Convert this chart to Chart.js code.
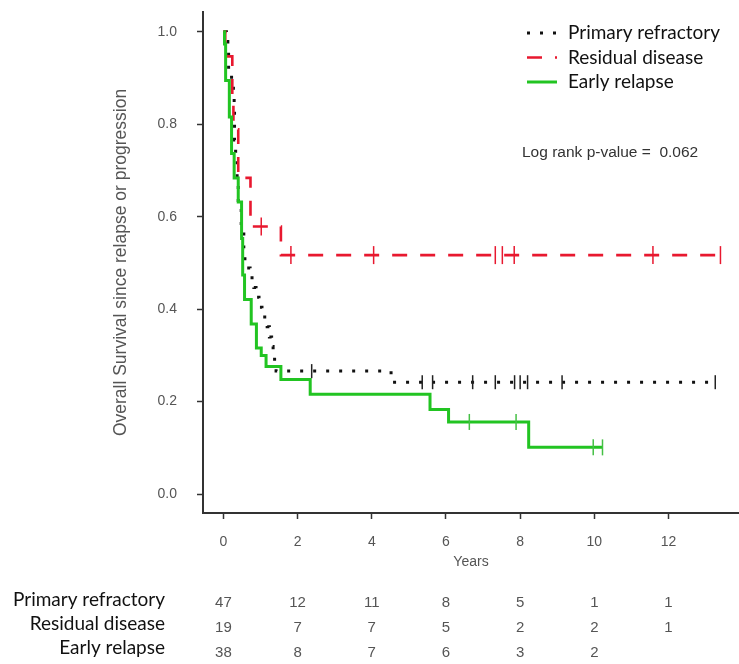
<!DOCTYPE html>
<html>
<head>
<meta charset="utf-8">
<script src="https://cdn.jsdelivr.net/npm/chart.js@4.4.1/dist/chart.umd.min.js"></script>
<style>
  html, body { margin: 0; padding: 0; background: #fff; overflow: hidden; }
  canvas { display: block; }
</style>
</head>
<body>
<canvas id="kmChart" width="739" height="664"></canvas>
<script>
// group names
const groups = ['Primary refractory', 'Residual disease', 'Early relapse'];

// Kaplan-Meier steps: time (years) and survival after the step
const refractoryTimes = [0, 0.08, 0.12, 0.14, 0.22, 0.27, 0.29, 0.30, 0.33, 0.37, 0.40, 0.48, 0.55, 0.58,
  0.72, 0.82, 0.88, 0.96, 1.04, 1.18, 1.24, 1.30, 1.34, 1.38, 1.42, 4.52];
const refractorySurv = [1.0, 0.979, 0.957, 0.915, 0.894, 0.872, 0.830, 0.766, 0.723, 0.681, 0.617, 0.574, 0.532, 0.489,
  0.468, 0.447, 0.426, 0.404, 0.383, 0.362, 0.340, 0.319, 0.298, 0.277, 0.266, 0.242];
const refractoryCensor = [2.38, 5.36, 5.64, 6.72, 7.33, 7.85, 8.0, 8.2, 9.13, 13.26];

const residualTimes = [0, 0.05, 0.24, 0.27, 0.40, 0.73, 1.55];
const residualSurv = [1.0, 0.947, 0.842, 0.789, 0.684, 0.579, 0.517];
const residualCensor = [1.02, 1.82, 4.05, 7.33, 7.52, 7.84, 11.58, 13.4];

const earlyTimes = [0, 0.03, 0.06, 0.16, 0.22, 0.29, 0.40, 0.49, 0.52, 0.57, 0.75, 0.89, 1.02, 1.15, 1.55, 2.34, 5.57, 6.07, 8.23];
const earlySurv = [1.0, 0.974, 0.895, 0.816, 0.737, 0.684, 0.632, 0.553, 0.474, 0.421, 0.368, 0.316, 0.300, 0.276, 0.248, 0.216, 0.183, 0.156, 0.101];
const earlyCensor = [6.63, 7.89, 9.97, 10.22];

// axis ticks
const xTicks = [0, 2, 4, 6, 8, 10, 12];
const yTicks = [0, 0.2, 0.4, 0.6, 0.8, 1.0];

// numbers at risk
const riskTimes = [0, 2, 4, 6, 8, 10, 12];
const refractoryRisk = [47, 12, 11, 8, 5, 1, 1];
const residualRisk = [19, 7, 7, 5, 2, 2, 1];
const earlyRisk = [38, 8, 7, 6, 3, 2, null];

const pValueText = 'Log rank p-value =  0.062';

const styles = [
  { color: '#111111', width: 3, dash: [3, 10], tick: '#222222', tickR: 7 },
  { color: '#e8182f', width: 2.6, dash: [15, 13], tick: '#e8182f', tickR: 9 },
  { color: '#22c422', width: 3, dash: [], tick: '#45c045', tickR: 8 }
];

function survAt(times, surv, t) {
  let s = surv[0];
  for (let i = 0; i < times.length; i++) {
    if (times[i] <= t) s = surv[i];
  }
  return s;
}

function curvePoints(times, surv, censor) {
  const pts = times.map((t, i) => ({ x: t, y: surv[i] }));
  const end = Math.max(...censor, times[times.length - 1]);
  pts.push({ x: end, y: survAt(times, surv, end) });
  return pts;
}

function censorPoints(times, surv, censor) {
  return censor.map(t => ({ x: t, y: survAt(times, surv, t) }));
}

const curves = [
  [refractoryTimes, refractorySurv, refractoryCensor],
  [residualTimes, residualSurv, residualCensor],
  [earlyTimes, earlySurv, earlyCensor]
];

const datasets = [];
curves.forEach((c, i) => {
  datasets.push({
    label: groups[i],
    data: curvePoints(c[0], c[1], c[2]),
    showLine: true,
    stepped: true,
    borderColor: styles[i].color,
    borderWidth: styles[i].width,
    borderDash: styles[i].dash,
    borderCapStyle: 'butt',
    pointRadius: 0,
    order: 3 - i
  });
});
curves.forEach((c, i) => {
  datasets.push({
    label: groups[i] + ' censored',
    data: censorPoints(c[0], c[1], c[2]),
    showLine: false,
    pointStyle: 'line',
    rotation: 90,
    pointRadius: styles[i].tickR,
    pointBorderWidth: 1.5,
    pointBorderColor: styles[i].tick,
    pointBackgroundColor: styles[i].tick,
    order: 0
  });
});

const overlay = {
  id: 'overlay',
  afterDraw(chart) {
    const ctx = chart.ctx;
    const xs = chart.scales.x;
    ctx.save();
    // legend
    groups.forEach((g, i) => {
      const y = 33 + i * 24.5;
      ctx.beginPath();
      ctx.setLineDash(styles[i].dash);
      ctx.lineWidth = styles[i].width;
      ctx.lineCap = 'butt';
      ctx.strokeStyle = styles[i].color;
      ctx.moveTo(527, y);
      ctx.lineTo(557, y);
      ctx.stroke();
      ctx.setLineDash([]);
      ctx.fillStyle = '#111';
      ctx.font = '19px Lato';
      ctx.textAlign = 'left';
      ctx.textBaseline = 'middle';
      ctx.fillText(g, 568, y);
    });
    // p-value
    ctx.fillStyle = '#333';
    ctx.font = '15.5px "Liberation Sans"';
    ctx.fillText(pValueText, 522, 153);

    // numbers at risk
    const rows = [refractoryRisk, residualRisk, earlyRisk];
    rows.forEach((row, r) => {
      ctx.fillStyle = '#111';
      ctx.font = '19px Lato';
      ctx.textAlign = 'right';
      ctx.fillText(groups[r], 165, 600 + r * 24);
      ctx.fillStyle = '#555';
      ctx.font = '15px "Liberation Sans"';
      ctx.textAlign = 'center';
      row.forEach((n, k) => {
        if (n === null) return;
        ctx.fillText(String(n), xs.getPixelForValue(riskTimes[k]), 603 + r * 25);
      });
    });
    ctx.restore();
  }
};

new Chart(document.getElementById('kmChart'), {
  type: 'scatter',
  data: { datasets: datasets },
  options: {
    responsive: false,
    animation: false,
    layout: { autoPadding: false, padding: { left: 107, top: 12, right: 0, bottom: 89 } },
    plugins: {
      legend: { display: false },
      tooltip: { enabled: false }
    },
    scales: {
      x: {
        type: 'linear',
        min: -0.55,
        max: 13.9,
        afterFit: s => { s.height = 62; s.paddingLeft = 0; s.paddingRight = 0; },
        afterBuildTicks: s => { s.ticks = xTicks.map(v => ({ value: v })); },
        border: { display: true, color: '#333', width: 2 },
        grid: { display: true, drawOnChartArea: false, drawTicks: true, tickLength: 6, tickColor: '#333', tickWidth: 1.5 },
        ticks: { padding: 15, color: '#555', font: { family: 'Liberation Sans', size: 14 }, maxRotation: 0 },
        title: { display: true, text: 'Years', color: '#555', font: { family: 'Liberation Sans', size: 14 } }
      },
      y: {
        min: -0.041,
        max: 1.043,
        afterFit: s => { s.width = 96; s.paddingTop = 0; s.paddingBottom = 0; },
        afterBuildTicks: s => { s.ticks = yTicks.map(v => ({ value: v })); },
        border: { display: true, color: '#333', width: 2 },
        grid: { display: true, drawOnChartArea: false, drawTicks: true, tickLength: 6, tickColor: '#333', tickWidth: 1.5 },
        ticks: { padding: 20, color: '#555', font: { family: 'Liberation Sans', size: 14 }, callback: v => v.toFixed(1) },
        title: { display: true, text: 'Overall Survival since relapse or progression', color: '#555', font: { family: 'Liberation Sans', size: 17.5 } }
      }
    }
  },
  plugins: [overlay]
});
</script>
</body>
</html>
